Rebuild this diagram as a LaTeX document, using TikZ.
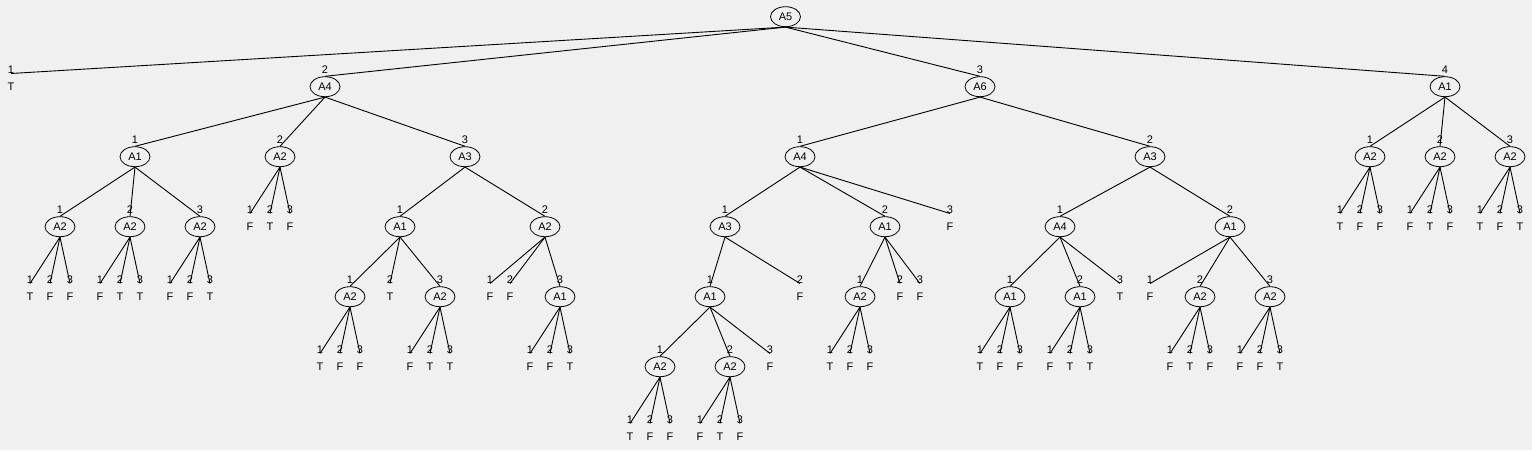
\documentclass[tikz,border=0pt]{standalone}
\usepackage{fontspec}
\setmainfont{Liberation Sans}
\usetikzlibrary{shapes.geometric}
\definecolor{bgc}{HTML}{F0F0F0}
\tikzset{
  inn/.style={ellipse,draw,line width=0.8pt,minimum width=30pt,minimum height=20pt,inner sep=0pt,font=\fontsize{11}{12}\selectfont},
  lf/.style={inner sep=0pt,minimum height=26pt,font=\fontsize{11}{12}\selectfont},
  num/.style={inner sep=0pt,font=\fontsize{11}{12}\selectfont},
  edge/.style={line width=0.9pt,black}
}
\newcommand\tnode[5]{\node[inn] (#1) at (#2,#3) {#4}; \node[num] (#1n) at (#2,#3-17) {#5};}
\newcommand\tleaf[5]{\node[lf] (#1) at (#2,#3) {#4}; \node[num] (#1n) at (#2,#3-17) {#5};}
\newcommand\tedge[2]{\draw[edge] (#1.south) -- (#2.north);}
% three leaves under a node: #1 parent name, #2 parent x, #3 leaf y, #4 #5 #6 letters
\newcommand\ttri[6]{%
  \tleaf{#1x}{#2-30}{#3}{#4}{1}\tleaf{#1y}{#2-10}{#3}{#5}{2}\tleaf{#1z}{#2+10}{#3}{#6}{3}%
  \tedge{#1}{#1x}\tedge{#1}{#1y}\tedge{#1}{#1z}}
\begin{document}
\begin{tikzpicture}[x=1pt,y=-1pt]
\fill[bgc] (0,0) rectangle (1532,450);
\useasboundingbox (0,0) rectangle (1532,450);
\def\La{16.7}\def\Lb{86.7}\def\Lc{156.7}\def\Ld{226.7}\def\Le{296.7}\def\Lf{366.7}\def\Lg{436.7}
% root
\node[inn] (r) at (785.5,\La) {A5};
% level 1
\tleaf{a}{11}{\Lb}{T}{1}
\tnode{b}{325}{\Lb}{A4}{2}
\tnode{c}{980}{\Lb}{A6}{3}
\tnode{d}{1445}{\Lb}{A1}{4}
\tedge{r}{a}\tedge{r}{b}\tedge{r}{c}\tedge{r}{d}
% subtree b (A4)
\tnode{bA}{135}{\Lc}{A1}{1}
\tnode{bB}{280}{\Lc}{A2}{2}
\tnode{bC}{465}{\Lc}{A3}{3}
\tedge{b}{bA}\tedge{b}{bB}\tedge{b}{bC}
\tnode{bAa}{60}{\Ld}{A2}{1}
\tnode{bAb}{130}{\Ld}{A2}{2}
\tnode{bAc}{200}{\Ld}{A2}{3}
\tedge{bA}{bAa}\tedge{bA}{bAb}\tedge{bA}{bAc}
\ttri{bAa}{60}{\Le}{T}{F}{F}
\ttri{bAb}{130}{\Le}{F}{T}{T}
\ttri{bAc}{200}{\Le}{F}{F}{T}
\ttri{bB}{280}{\Ld}{F}{T}{F}
\tnode{bCa}{400}{\Ld}{A1}{1}
\tnode{bCb}{545}{\Ld}{A2}{2}
\tedge{bC}{bCa}\tedge{bC}{bCb}
\tnode{bCaa}{350}{\Le}{A2}{1}
\tleaf{bCab}{390}{\Le}{T}{2}
\tnode{bCac}{440}{\Le}{A2}{3}
\tedge{bCa}{bCaa}\tedge{bCa}{bCab}\tedge{bCa}{bCac}
\ttri{bCaa}{350}{\Lf}{T}{F}{F}
\ttri{bCac}{440}{\Lf}{F}{T}{T}
\tleaf{bCba}{490}{\Le}{F}{1}
\tleaf{bCbb}{510}{\Le}{F}{2}
\tnode{bCbc}{560}{\Le}{A1}{3}
\tedge{bCb}{bCba}\tedge{bCb}{bCbb}\tedge{bCb}{bCbc}
\ttri{bCbc}{560}{\Lf}{F}{F}{T}
% subtree c (A6)
\tnode{cA}{800}{\Lc}{A4}{1}
\tnode{cB}{1150}{\Lc}{A3}{2}
\tedge{c}{cA}\tedge{c}{cB}
\tnode{cAa}{725}{\Ld}{A3}{1}
\tnode{cAb}{885}{\Ld}{A1}{2}
\tleaf{cAc}{950}{\Ld}{F}{3}
\tedge{cA}{cAa}\tedge{cA}{cAb}\tedge{cA}{cAc}
\tnode{cAaa}{710}{\Le}{A1}{1}
\tleaf{cAab}{800}{\Le}{F}{2}
\tedge{cAa}{cAaa}\tedge{cAa}{cAab}
\tnode{cAaaa}{660}{\Lf}{A2}{1}
\tnode{cAaab}{730}{\Lf}{A2}{2}
\tleaf{cAaac}{770}{\Lf}{F}{3}
\tedge{cAaa}{cAaaa}\tedge{cAaa}{cAaab}\tedge{cAaa}{cAaac}
\ttri{cAaaa}{660}{\Lg}{T}{F}{F}
\ttri{cAaab}{730}{\Lg}{F}{T}{F}
\tnode{cAba}{860}{\Le}{A2}{1}
\tleaf{cAbb}{900}{\Le}{F}{2}
\tleaf{cAbc}{920}{\Le}{F}{3}
\tedge{cAb}{cAba}\tedge{cAb}{cAbb}\tedge{cAb}{cAbc}
\ttri{cAba}{860}{\Lf}{T}{F}{F}
\tnode{cBa}{1060}{\Ld}{A4}{1}
\tnode{cBb}{1230}{\Ld}{A1}{2}
\tedge{cB}{cBa}\tedge{cB}{cBb}
\tnode{cBaa}{1010}{\Le}{A1}{1}
\tnode{cBab}{1080}{\Le}{A1}{2}
\tleaf{cBac}{1120}{\Le}{T}{3}
\tedge{cBa}{cBaa}\tedge{cBa}{cBab}\tedge{cBa}{cBac}
\ttri{cBaa}{1010}{\Lf}{T}{F}{F}
\ttri{cBab}{1080}{\Lf}{F}{T}{T}
\tleaf{cBba}{1150}{\Le}{F}{1}
\tnode{cBbb}{1200}{\Le}{A2}{2}
\tnode{cBbc}{1270}{\Le}{A2}{3}
\tedge{cBb}{cBba}\tedge{cBb}{cBbb}\tedge{cBb}{cBbc}
\ttri{cBbb}{1200}{\Lf}{F}{T}{F}
\ttri{cBbc}{1270}{\Lf}{F}{F}{T}
% subtree d (A1)
\tnode{dA}{1370}{\Lc}{A2}{1}
\tnode{dB}{1440}{\Lc}{A2}{2}
\tnode{dC}{1510}{\Lc}{A2}{3}
\tedge{d}{dA}\tedge{d}{dB}\tedge{d}{dC}
\ttri{dA}{1370}{\Ld}{T}{F}{F}
\ttri{dB}{1440}{\Ld}{F}{T}{F}
\ttri{dC}{1510}{\Ld}{T}{F}{T}
\end{tikzpicture}
\end{document}
